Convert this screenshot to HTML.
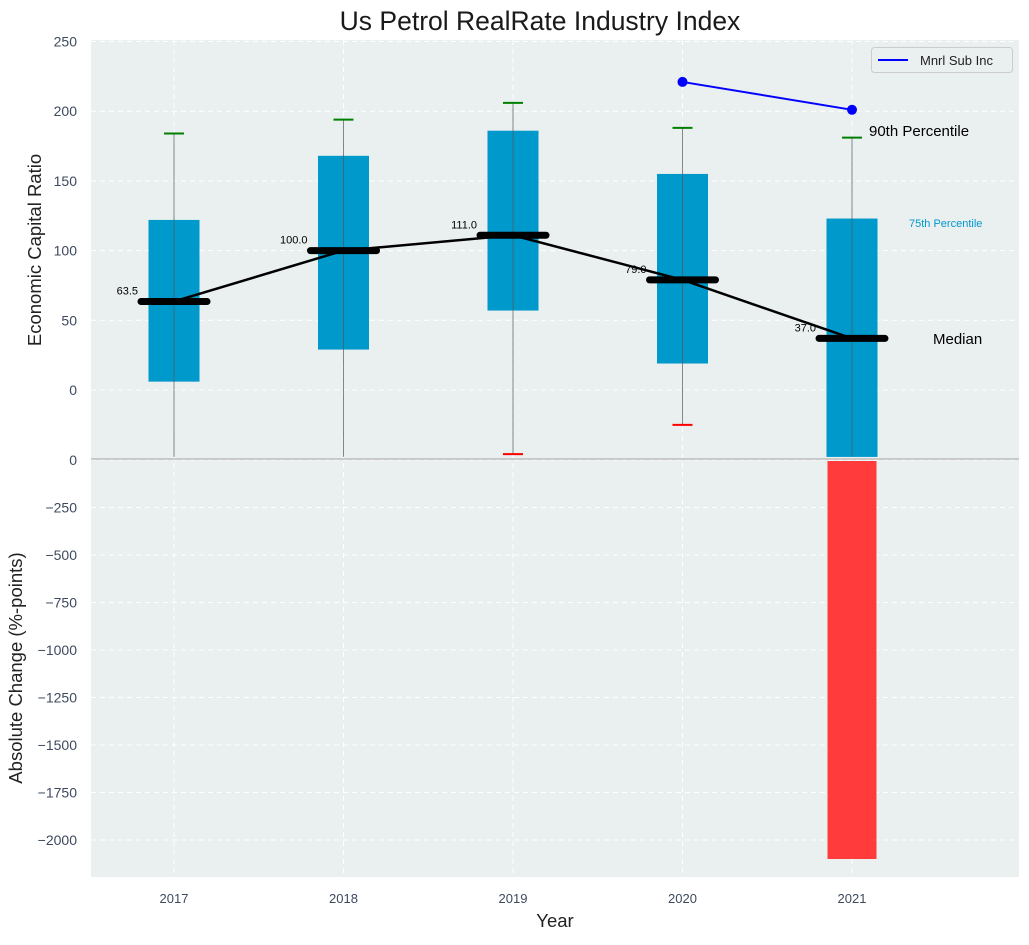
<!DOCTYPE html>
<html><head><meta charset="utf-8"><style>
body{margin:0;background:#fff;font-family:"Liberation Sans",sans-serif}
svg text{font-family:"Liberation Sans",sans-serif}
</style></head><body>
<svg id="c" width="1029" height="940" xmlns="http://www.w3.org/2000/svg"></svg>
<script>
const years=["2017","2018","2019","2020","2021"];
const q1=[6,29,57,19,-48];
const q3=[122,168,186,155,123];
const whiskLo=[-48,-48,-46,-25,-48];
const whiskHi=[184,194,206,188,181];
const medians=[63.5,100,111,79,37];
const lowCapShown=[false,false,true,true,false];
const subYears=[3,4];
const subVals=[221,201];
const changeVals=[0,0,0,0,-2100];
const topTicks=[0,50,100,150,200,250];
const botTicks=[0,-250,-500,-750,-1000,-1250,-1500,-1750,-2000];

const svg=document.getElementById('c');
const NS='http://www.w3.org/2000/svg';
function el(t,a,p){const e=document.createElementNS(NS,t);for(const k in a)e.setAttribute(k,a[k]);(p||svg).appendChild(e);return e;}
const L=91,R=1019,T=40,MID=459,B=877;
const xs=i=>174+i*169.5;
const yt=v=>390-v*1.394;
const yb=v=>460-v*0.19;

let bg=el('rect',{x:L,y:T,width:R-L,height:B-T,fill:'#eaeff0'});


topTicks.forEach(v=>{const g=el('line',{x1:L,x2:R,y1:yt(v),y2:yt(v),stroke:'#fff','stroke-dasharray':'5,4','stroke-width':1});});
botTicks.forEach(v=>{const g=el('line',{x1:L,x2:R,y1:yb(v),y2:yb(v),stroke:'#fff','stroke-dasharray':'5,4','stroke-width':1});});
years.forEach((y,i)=>{const g=el('line',{x1:xs(i),x2:xs(i),y1:T,y2:B,stroke:'#fff','stroke-dasharray':'5,4','stroke-width':1});});

topTicks.forEach(v=>{const t=el('text',{x:77,y:yt(v)+5,'text-anchor':'end','font-size':14,fill:'#3d4a5e'});t.textContent=v;});
botTicks.forEach(v=>{const t=el('text',{x:77,y:yb(v)+5,'text-anchor':'end','font-size':14,fill:'#3d4a5e'});t.textContent=v===0?'0':'\u2212'+Math.abs(v);});
years.forEach((y,i)=>{const t=el('text',{x:xs(i),y:903,'text-anchor':'middle','font-size':13,fill:'#3d4a5e'});t.textContent=y;});

let dv=el('line',{x1:L,x2:R,y1:MID,y2:MID,stroke:'#bbb','stroke-width':1.5});


years.forEach((y,i)=>{
 const b=el('rect',{x:xs(i)-25.5,y:yt(q3[i]),width:51,height:yt(q1[i])-yt(q3[i]),fill:'#0099cc'});
 
 const w=el('line',{x1:xs(i),x2:xs(i),y1:yt(whiskHi[i]),y2:Math.min(yt(whiskLo[i]),458),stroke:'#555','stroke-opacity':0.7,'stroke-width':1});
 
 const c=el('line',{x1:xs(i)-10,x2:xs(i)+10,y1:yt(whiskHi[i]),y2:yt(whiskHi[i]),stroke:'green','stroke-width':2});
 
 if(lowCapShown[i]){const c2=el('line',{x1:xs(i)-10,x2:xs(i)+10,y1:yt(whiskLo[i]),y2:yt(whiskLo[i]),stroke:'red','stroke-width':2});
 }
});
let pts=medians.map((m,i)=>xs(i)+','+yt(m)).join(' ');
let ml=el('polyline',{points:pts,fill:'none',stroke:'#000','stroke-width':2.5});

medians.forEach((m,i)=>{
 const l=el('line',{x1:xs(i)-33,x2:xs(i)+33,y1:yt(m),y2:yt(m),stroke:'#000','stroke-width':7,'stroke-linecap':'round'});
 
 const t=el('text',{x:xs(i)-36,y:yt(m)-7,'text-anchor':'end','font-size':11,fill:'#000'});t.textContent=m.toFixed(1);
 
});
let sp=subYears.map((k,j)=>xs(k)+','+yt(subVals[j])).join(' ');
let sl=el('polyline',{points:sp,fill:'none',stroke:'blue','stroke-width':2});

subYears.forEach((k,j)=>{const d=el('circle',{cx:xs(k),cy:yt(subVals[j]),r:5,fill:'blue'});});

changeVals.forEach((v,i)=>{if(v===0)return;const r=el('rect',{x:xs(i)-24.5,y:yb(0)+1,width:49,height:yb(v)-yb(0)-1,fill:'#ff3b3b'});
 });

function txt(s,x,y,sz,fill,name,anchor){const t=el('text',{x:x,y:y,'font-size':sz,fill:fill,'text-anchor':anchor||'start'});t.textContent=s;return t;}
txt('90th Percentile',869,136,15,'#000','p90-annotation');
txt('75th Percentile',909,227,11,'#0099cc','p75-annotation');
txt('Median',933,344,15,'#000','median-annotation');
txt('Us Petrol RealRate Industry Index',540,30,26.5,'#1a1a1a','chart-title','middle');
txt('Year',555,927,18.5,'#222','x-axis-title','middle');
let ya=txt('Economic Capital Ratio',41,250,18.5,'#222','y-axis-title-top','middle');ya.setAttribute('transform','rotate(-90 41 250)');
let yb2=txt('Absolute Change (%-points)',22,668,18.5,'#222','y-axis-title-bottom','middle');yb2.setAttribute('transform','rotate(-90 22 668)');

let lg=el('g',{});
el('rect',{x:871.5,y:47.5,width:141,height:25,rx:3,fill:'#eaeff0',stroke:'#ccc'},lg);
el('line',{x1:878,x2:908,y1:60,y2:60,stroke:'blue','stroke-width':2},lg);
let lt=el('text',{x:920,y:65,'font-size':13,fill:'#222'},lg);lt.textContent='Mnrl Sub Inc';
</script>
</body></html>
